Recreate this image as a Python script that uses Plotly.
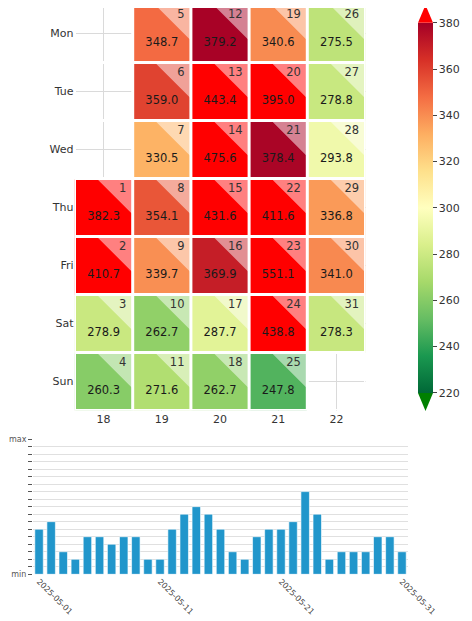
import pandas as pd
import plotly.graph_objects as go

# data
dates = pd.date_range("2025-05-01", "2025-05-31", freq="D")
values = [382.3, 410.7, 278.9, 260.3, 348.7, 359.0, 330.5, 354.1, 339.7, 262.7,
          271.6, 379.2, 443.4, 475.6, 431.6, 369.9, 287.7, 262.7, 340.6, 395.0,
          378.4, 411.6, 551.1, 438.8, 247.8, 275.5, 278.8, 293.8, 336.8, 341.0,
          278.3]
bar_levels = [6, 7, 3, 2, 5, 5, 4, 5, 5, 2, 2, 6, 8, 9, 8, 6, 3, 2, 5, 6, 6,
              7, 11, 8, 2, 3, 3, 3, 5, 5, 3]
day_names = ["Mon", "Tue", "Wed", "Thu", "Fri", "Sat", "Sun"]
weeks = [18, 19, 20, 21, 22]
cbar_ticks = [220, 240, 260, 280, 300, 320, 340, 360, 380]
date_ticks = ["2025-05-01", "2025-05-11", "2025-05-21", "2025-05-31"]

W, H = 472, 621
OFF = 8  # page body margin
vmin, vmax = 220, 380
zlo, zhi = 200, 400

rdylgn_r = ['#006837', '#1a9850', '#66bd63', '#a6d96a', '#d9ef8b', '#ffffbf',
            '#fee08b', '#fdae61', '#f46d43', '#d73027', '#a50026']


def fx(px):
    return (px - OFF) / W


def fy(py):
    return 1 - (py - OFF) / H


# colorscale with under/over colours outside [vmin, vmax]
a = (vmin - zlo) / (zhi - zlo)
b = (vmax - zlo) / (zhi - zlo)
ext_scale = [[0, '#008000'], [a - 1e-6, '#008000']]
for i, c in enumerate(rdylgn_r):
    ext_scale.append([a + i / 10 * (b - a), c])
ext_scale += [[b + 1e-6, '#ff0000'], [1, '#ff0000']]

df = pd.DataFrame({"date": dates, "value": values})
df["dow"] = df["date"].dt.dayofweek
df["week"] = df["date"].dt.isocalendar().week.astype(int)
df["day"] = df["date"].dt.day

z = [[None for _ in weeks] for _ in day_names]
for _, r in df.iterrows():
    z[r["dow"]][weeks.index(r["week"])] = r["value"]

fig = go.Figure()

fig.add_trace(go.Heatmap(
    x=weeks, y=list(range(7)), z=z, zmin=zlo, zmax=zhi,
    colorscale=ext_scale, showscale=False, hoverinfo="skip",
))

# lighter corner triangle in every cell
leg = 0.62
tx, ty = [], []
for _, r in df.iterrows():
    w, d = r["week"], r["dow"]
    tx += [w + 0.5 - leg, w + 0.5, w + 0.5, w + 0.5 - leg, None]
    ty += [d - 0.5, d - 0.5, d - 0.5 + leg, d - 0.5, None]
fig.add_trace(go.Scatter(
    x=tx, y=ty, mode="lines", fill="toself", fillcolor="rgba(255,255,255,0.5)",
    line=dict(width=0), hoverinfo="skip", showlegend=False,
))

fig.add_trace(go.Scatter(
    x=df["week"] + 0.39, y=df["dow"] - 0.31, mode="text",
    text=df["day"].astype(str), textposition="middle left",
    textfont=dict(size=11.5, color="#333333"), hoverinfo="skip", showlegend=False,
))
fig.add_trace(go.Scatter(
    x=df["week"] + 0.0, y=df["dow"] + 0.17, mode="text",
    text=[f"{v:.1f}" for v in df["value"]], textposition="middle center",
    textfont=dict(size=11.5, color="#1a1a1a"), hoverinfo="skip", showlegend=False,
))

# colorbar
fig.add_trace(go.Scatter(
    x=[weeks[0], weeks[0]], y=[0, 0], mode="markers",
    marker=dict(size=0, opacity=0, color=[vmin, vmax], cmin=vmin, cmax=vmax,
                colorscale=rdylgn_r, showscale=True,
                colorbar=dict(
                    x=fx(418), xanchor="left", y=fy((22.7 + 393) / 2), yanchor="middle",
                    len=(393 - 22.7) / H, lenmode="fraction", thickness=15,
                    outlinewidth=0, xpad=0, ypad=0, ticks="outside", ticklen=4,
                    tickcolor="#444", tickvals=cbar_ticks, tickprefix="€ ",
                    tickfont=dict(size=11, color="#333"),
                )),
    hoverinfo="skip", showlegend=False,
))

# bars
fig.add_trace(go.Bar(
    x=dates, y=bar_levels, xaxis="x2", yaxis="y2",
    marker=dict(color="#2196cb", line=dict(color="rgba(255,255,255,0.6)", width=1)),
    hoverinfo="skip", showlegend=False,
))

shapes = []
# white cell borders
for xb in [w - 0.5 for w in weeks] + [weeks[-1] + 0.5]:
    shapes.append(dict(type="line", xref="x", yref="y", x0=xb, x1=xb, y0=-0.5, y1=6.5,
                       line=dict(color="white", width=3)))
for yb in [d - 0.5 for d in range(8)]:
    shapes.append(dict(type="line", xref="x", yref="y", x0=weeks[0] - 0.5, x1=weeks[-1] + 0.5,
                       y0=yb, y1=yb, line=dict(color="white", width=3)))
# colorbar extension triangles
shapes.append(dict(type="path", xref="paper", yref="paper", line=dict(width=0), fillcolor="#ff0000",
                   path=f"M {fx(418)},{fy(22.7)} L {fx(433)},{fy(22.7)} L {fx(425.5)},{fy(5)} Z"))
shapes.append(dict(type="path", xref="paper", yref="paper", line=dict(width=0), fillcolor="#008000",
                   path=f"M {fx(418)},{fy(393)} L {fx(433)},{fy(393)} L {fx(425.5)},{fy(411)} Z"))

# heatmap grid spans 4.5..410.5 px (58 px per row); the top few px fall in the page margin
row_px = 58.0
hm_top = max(4.5, OFF)
y_top = -0.5 + (hm_top - 4.5) / row_px

fig.update_layout(
    width=W, height=H,
    margin=dict(l=0, r=0, t=0, b=0),
    paper_bgcolor="white", plot_bgcolor="white",
    font=dict(family="DejaVu Sans", color="#333"),
    shapes=shapes,
    bargap=0.3,
    xaxis=dict(domain=[fx(74.5), fx(365.5)], range=[17.5, 22.5], tickvals=weeks,
               showgrid=True, gridcolor="#dadada", gridwidth=1, zeroline=False,
               showline=False, ticks="", tickfont=dict(size=11, color="#333"),
               automargin=False),
    yaxis=dict(domain=[fy(410.5), fy(hm_top)], range=[6.5, y_top], tickvals=list(range(7)),
               ticktext=day_names, showgrid=True, gridcolor="#dadada", gridwidth=1,
               zeroline=False, showline=False, ticks="",
               tickfont=dict(size=11, color="#333"), automargin=False),
    xaxis2=dict(domain=[fx(33), fx(408)], anchor="y2", type="date",
                range=["2025-04-30 12:00", "2025-05-31 12:00"],
                tickvals=date_ticks, ticktext=date_ticks, tickangle=45,
                tickfont=dict(size=8, color="#444"), showgrid=False, zeroline=False,
                showline=False, ticks="", automargin=False),
    yaxis2=dict(domain=[fy(574.3), fy(439)], anchor="x2", range=[0, 18],
                tickvals=list(range(19)),
                ticktext=["min"] + [""] * 17 + ["max"],
                ticks="outside", ticklen=4, tickcolor="#555",
                showgrid=True, gridcolor="#e0e0e0", gridwidth=1, zeroline=False,
                showline=False, tickfont=dict(size=8, color="#555"), automargin=False),
    annotations=[dict(text="<b>May</b>", xref="paper", yref="paper",
                      x=fx(220), y=fy(4.5), xanchor="center", yanchor="bottom", yshift=-1,
                      showarrow=False, font=dict(size=16, color="#222"))],
)

fig.write_html("out.html")
